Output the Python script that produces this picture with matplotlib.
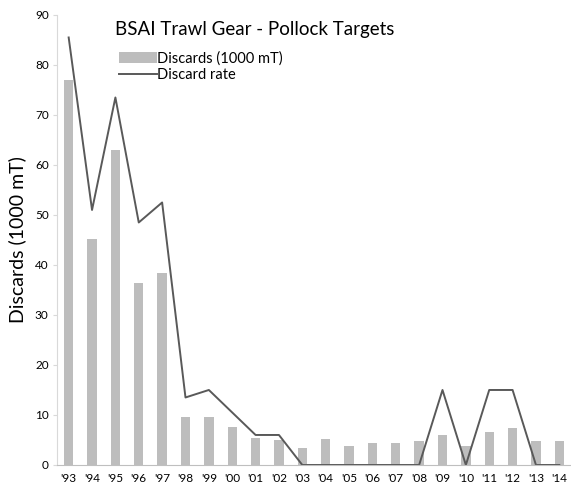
import matplotlib.pyplot as plt
import numpy as np

years = ["'93", "'94", "'95", "'96", "'97", "'98", "'99", "'00", "'01", "'02", "'03",
         "'04", "'05", "'06", "'07", "'08", "'09", "'10", "'11", "'12", "'13", "'14"]
discards = [77.0, 45.1, 62.9, 36.3, 38.3, 9.5, 9.5, 7.5, 5.3, 5.0, 3.3,
            5.2, 3.7, 4.4, 4.4, 4.7, 6.0, 3.8, 6.5, 7.3, 4.8, 4.7]
discard_rate = [85.5, 51.0, 73.5, 48.5, 52.5, 13.5, 15.0, 10.5, 6.0, 6.0, 0.0,
                0.0, 0.0, 0.0, 0.0, 0.0, 15.0, 0.0, 15.0, 15.0, 0.0, 0.0]

plt.rcParams["font.family"] = ["Lato", "DejaVu Sans"]

fig = plt.figure(figsize=(5.71, 4.91), dpi=100)
ax = fig.add_axes([0.0998, 0.053, 0.9002, 0.9165])

x = np.arange(len(years))
bars = ax.bar(x, discards, width=0.4, color="#bdbdbd")
line, = ax.plot(x, discard_rate, color="#595959", lw=1.4)

ax.set_xlim(-0.5, len(years) - 0.5)
ax.set_ylim(0, 90)
ax.set_yticks(range(0, 91, 10))
ax.set_xticks(x)
ax.set_xticklabels(years)
ax.tick_params(axis="x", length=0, labelsize=8.5, pad=6)
ax.tick_params(axis="y", length=3, color="#d9d9d9", labelsize=8.5, pad=3)

for s in ["top", "right"]:
    ax.spines[s].set_visible(False)
ax.spines["left"].set_color("#d9d9d9")
ax.spines["bottom"].set_color("#bfbfbf")

ax.set_ylabel("Discards (1000 mT)", fontsize=14, labelpad=6)

fig.text(115 / 571, 1 - 30 / 491, "BSAI Trawl Gear - Pollock Targets",
         fontsize=13.5, va="center", ha="left")
ax.legend([bars, line], ["Discards (1000 mT)", "Discard rate"],
          loc="upper left", bbox_to_anchor=(112 / 571, 1 - 44 / 491),
          bbox_transform=fig.transFigure, frameon=False, fontsize=10.5,
          handlelength=2.6, handletextpad=0.0, borderpad=0, labelspacing=0.15)

fig.savefig("out.png", dpi=100)
